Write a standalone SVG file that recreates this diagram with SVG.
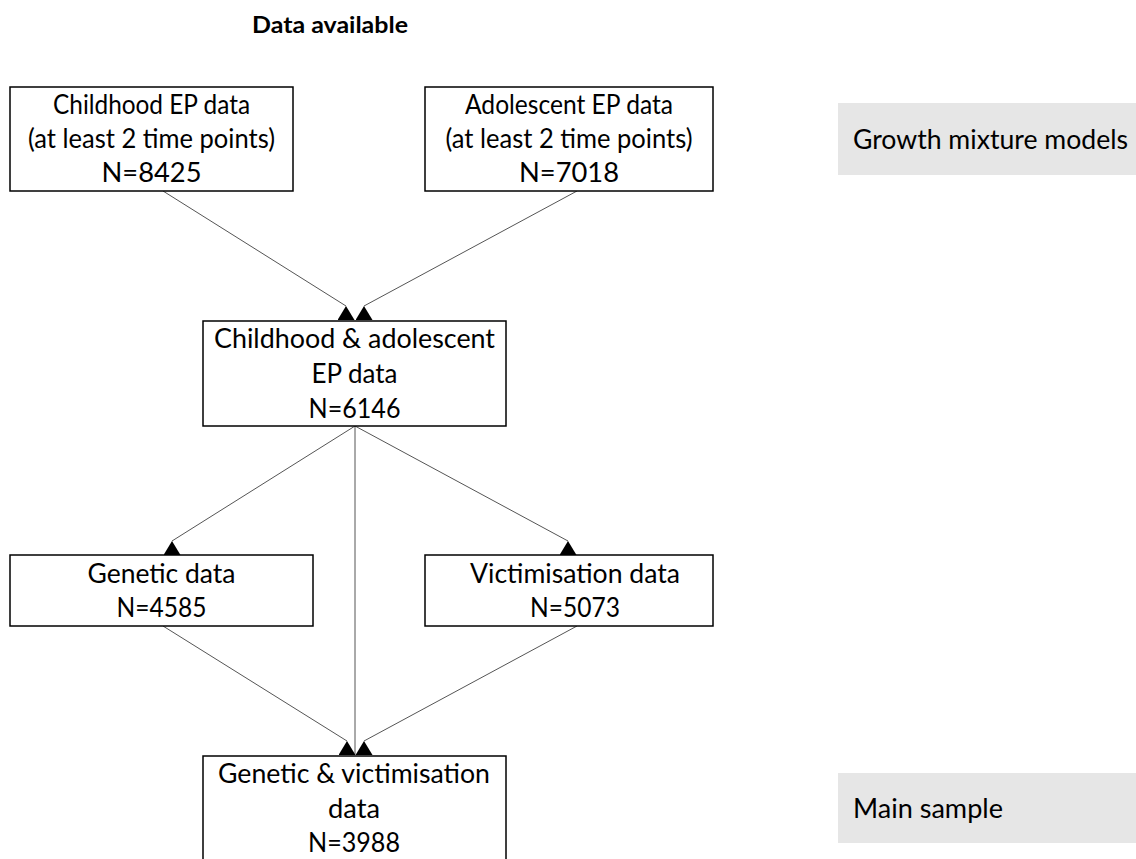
<svg xmlns="http://www.w3.org/2000/svg" width="1136" height="859" viewBox="0 0 1136 859">
<style>
.box{fill:#fff;stroke:#000;stroke-width:1.5}
.gray{fill:#e6e6e6;stroke:none}
.t{font-family:Lato,"Open Sans",sans-serif;font-size:26px;fill:#000;text-anchor:middle}
.g{font-family:Lato,"Open Sans",sans-serif;font-size:26px;fill:#000}
.title{font-family:Lato,"Open Sans",sans-serif;font-size:22px;font-weight:bold;fill:#000;text-anchor:middle}
.c{stroke:#555;stroke-width:1;fill:none;marker-end:url(#tri)}
</style>
<defs>
<marker id="tri" markerUnits="userSpaceOnUse" viewBox="0 0 17 14" refX="8.5" refY="0" markerWidth="17" markerHeight="14" orient="0">
<path d="M8.5,0 L17,14 L0,14 Z" fill="#000"/>
</marker>
</defs>
<text class="title" x="330" y="33" textLength="156" lengthAdjust="spacingAndGlyphs">Data available</text>
<g id="gmm">
<rect class="gray" x="838" y="103" width="298" height="72"/>
<text class="g" x="853" y="149" textLength="275" lengthAdjust="spacingAndGlyphs">Growth mixture models</text>
</g>
<g id="main">
<rect class="gray" x="838" y="773" width="298" height="70"/>
<text class="g" x="853" y="818" textLength="150" lengthAdjust="spacingAndGlyphs">Main sample</text>
</g>
<g id="connectors">
<line class="c" x1="163" y1="191" x2="346" y2="306"/>
<line class="c" x1="577" y1="191" x2="364" y2="306"/>
<line class="c" x1="355" y1="426" x2="172" y2="541"/>
<line class="c" x1="355" y1="426" x2="568" y2="541"/>
<line x1="355" y1="426" x2="355" y2="755" stroke="#555" stroke-width="1"/>
<line class="c" x1="163" y1="626" x2="347" y2="741"/>
<line class="c" x1="577" y1="626" x2="364" y2="741"/>
</g>
<g id="childhood">
<rect class="box" x="10" y="87" width="283" height="104"/>
<text class="t" x="151.5" y="114" textLength="197" lengthAdjust="spacingAndGlyphs">Childhood EP data</text>
<text class="t" x="151.5" y="148" textLength="247" lengthAdjust="spacingAndGlyphs">(at least 2 time points)</text>
<text class="t" x="151.5" y="182" textLength="100" lengthAdjust="spacingAndGlyphs">N=8425</text>
</g>
<g id="adolescent">
<rect class="box" x="425" y="87" width="288" height="104"/>
<text class="t" x="569" y="114" textLength="208" lengthAdjust="spacingAndGlyphs">Adolescent EP data</text>
<text class="t" x="569" y="148" textLength="247" lengthAdjust="spacingAndGlyphs">(at least 2 time points)</text>
<text class="t" x="569" y="182" textLength="100" lengthAdjust="spacingAndGlyphs">N=7018</text>
</g>
<g id="both">
<rect class="box" x="203" y="321" width="303" height="105"/>
<text class="t" x="354.5" y="348" textLength="281" lengthAdjust="spacingAndGlyphs">Childhood &amp; adolescent</text>
<text class="t" x="354.5" y="383" textLength="86" lengthAdjust="spacingAndGlyphs">EP data</text>
<text class="t" x="354.5" y="418" textLength="92" lengthAdjust="spacingAndGlyphs">N=6146</text>
</g>
<g id="genetic">
<rect class="box" x="10" y="555" width="303" height="71"/>
<text class="t" x="161.5" y="583" textLength="148" lengthAdjust="spacingAndGlyphs">Genetic data</text>
<text class="t" x="161.5" y="617" textLength="90" lengthAdjust="spacingAndGlyphs">N=4585</text>
</g>
<g id="victimisation">
<rect class="box" x="425" y="555" width="288" height="71"/>
<text class="t" x="575" y="583" textLength="210" lengthAdjust="spacingAndGlyphs">Victimisation data</text>
<text class="t" x="575" y="617" textLength="90" lengthAdjust="spacingAndGlyphs">N=5073</text>
</g>
<g id="genvic">
<rect class="box" x="203" y="756" width="303" height="110"/>
<text class="t" x="354" y="783" textLength="272" lengthAdjust="spacingAndGlyphs">Genetic &amp; victimisation</text>
<text class="t" x="354" y="818" textLength="52" lengthAdjust="spacingAndGlyphs">data</text>
<text class="t" x="354" y="852" textLength="92" lengthAdjust="spacingAndGlyphs">N=3988</text>
</g>
</svg>
